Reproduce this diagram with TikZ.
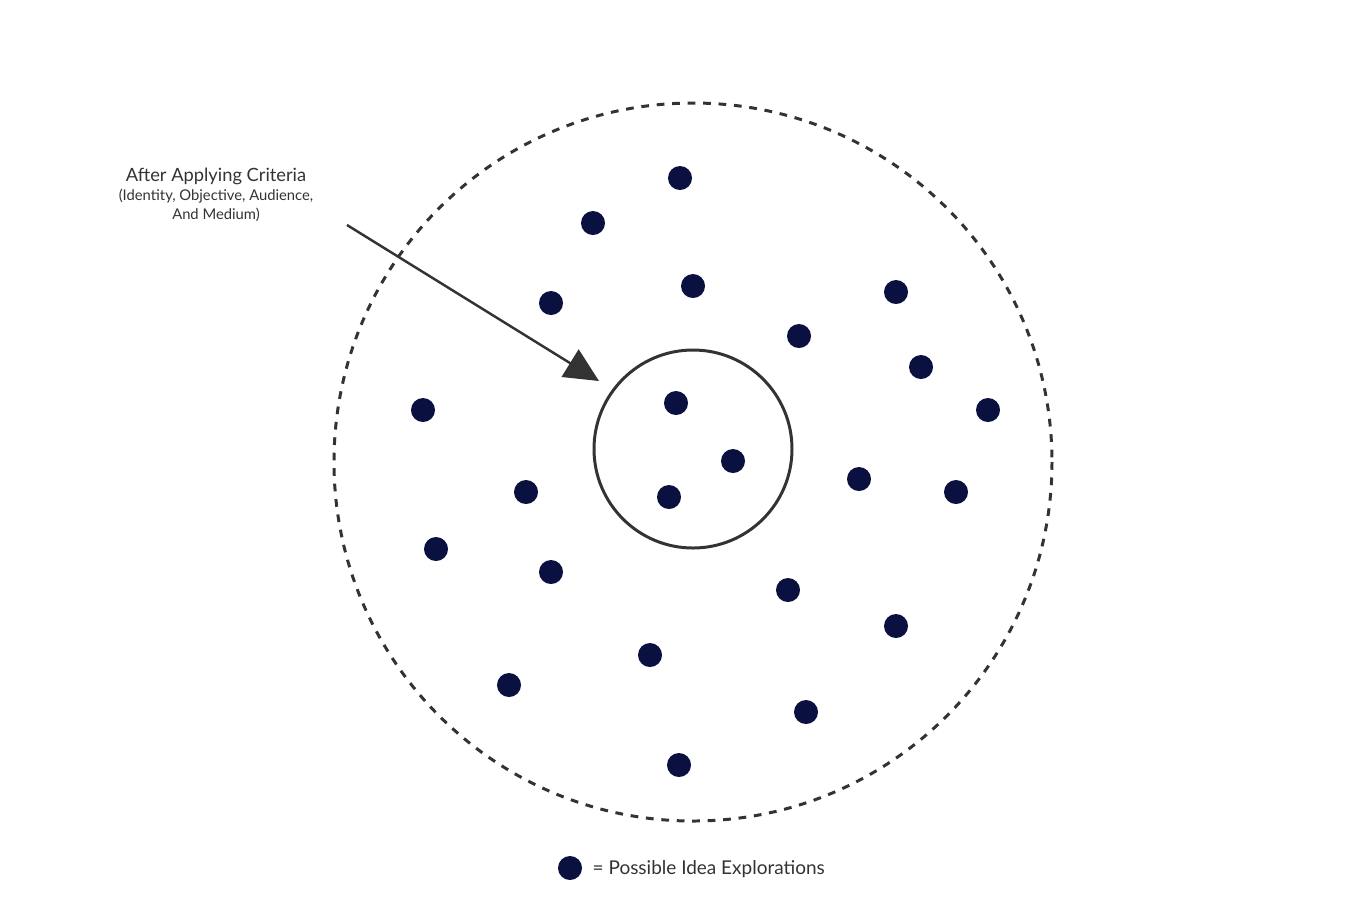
\documentclass[tikz,border=0pt]{standalone}
\usepackage{fontspec}
\setmainfont{Lato}
\usetikzlibrary{arrows.meta}
\definecolor{dotc}{HTML}{0A1140}
\definecolor{linec}{HTML}{333333}
\begin{document}
\begin{tikzpicture}[x=0.01cm,y=-0.01cm,
  idea/.style={circle,fill=dotc,minimum size=0.24cm,inner sep=0pt}]
\useasboundingbox (0,0) rectangle (1366,920);
\draw[linec,line width=0.85pt,dash pattern=on 2.2pt off 2.2pt] (693,462) circle[radius=359];
\draw[linec,line width=0.85pt] (693,449) circle[radius=99];
\foreach \x/\y [count=\i] in {680/178,593/223,551/303,693/286,896/292,799/336,921/367,988/410,423/410,676/403,733/461,669/497,526/492,859/479,956/492,436/549,551/572,788/590,896/626,650/655,509/685,806/712,679/765}
  \node[idea] (d\i) at (\x,\y) {};
\node[font=\fontsize{5.2pt}{6pt}\selectfont,text=linec] (lab) at (216,176) {After Applying Criteria};
\node[font=\fontsize{4.2pt}{5.4pt}\selectfont,text=linec,align=center] (sub) at (216,205) {(Identity, Objective, Audience,\\And Medium)};
\coordinate (as) at (347,225);
\coordinate (ae) at (599,381);
\draw[linec,line width=0.7pt,-{Triangle[length=0.34cm,width=0.32cm]}] (as) -- (ae);
\node[idea] (leg) at (570,868) {};
\node[anchor=west,font=\fontsize{5.4pt}{6pt}\selectfont,text=linec,inner sep=0pt] (legt) at (592,869) {= Possible Idea Explorations};
\end{tikzpicture}
\end{document}
